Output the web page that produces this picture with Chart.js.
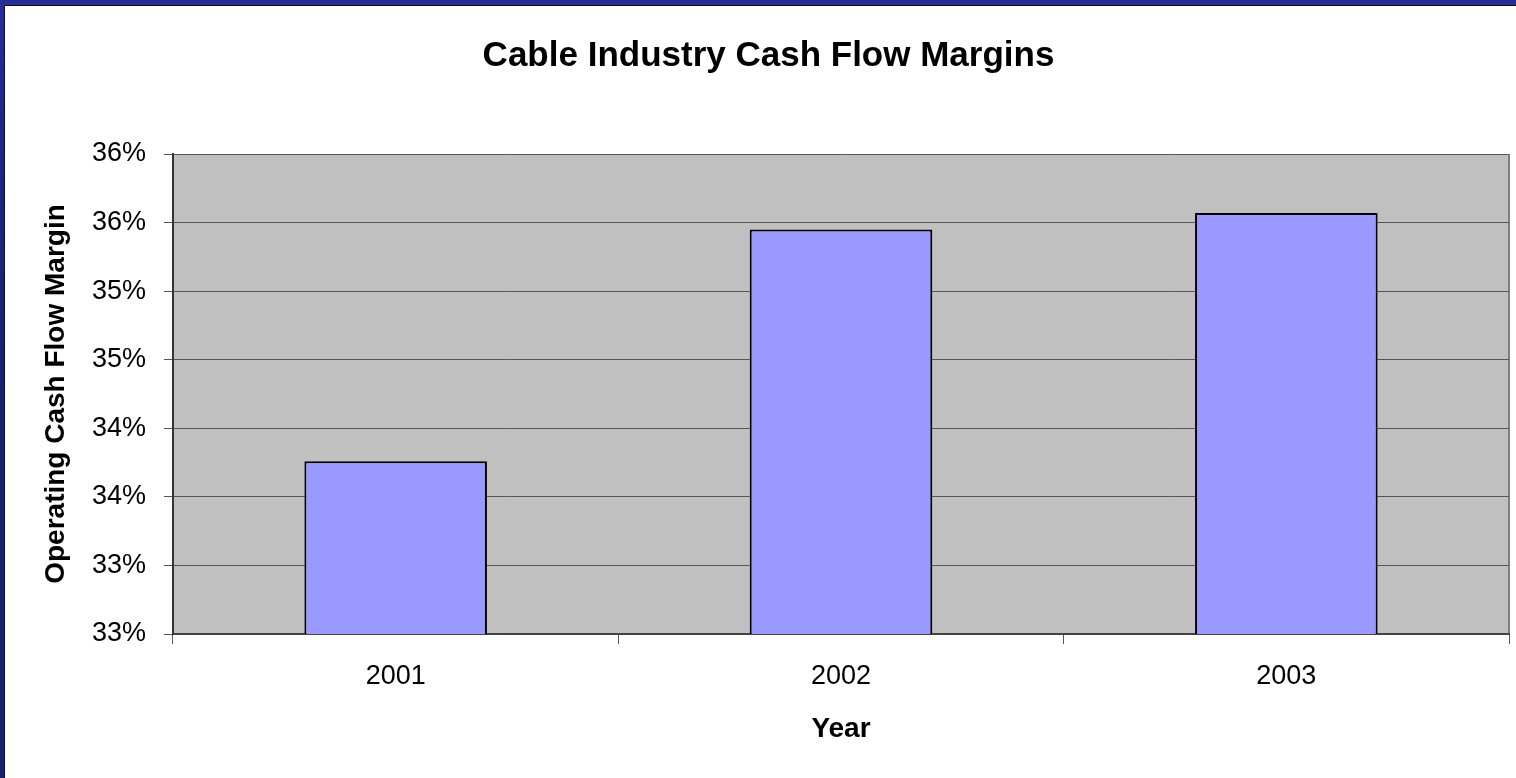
<!DOCTYPE html>
<html>
<head>
<meta charset="utf-8">
<script src="https://cdn.jsdelivr.net/npm/chart.js@4"></script>
<style>
  html, body { margin: 0; padding: 0; }
  body {
    width: 1516px; height: 778px; overflow: hidden;
    background: linear-gradient(to bottom, #2a2d94 0px, #1a2a7c 140px, #12246a 400px);
  }
  #panel {
    position: absolute; left: 4px; top: 5px; width: 1512px; height: 773px;
    background: #fff; border-left: 1px solid #0b0b35; border-top: 1px solid #0b0b35;
  }
  #wrap { position: absolute; left: 1px; top: 1px; width: 1511px; height: 772px; }
</style>
</head>
<body>
<div id="panel"><div id="wrap"><canvas id="cashFlow"></canvas></div></div>
<script>
// 데이터
var years = ['2001', '2002', '2003'];
var margins = [33.76, 35.45, 35.57];   // % 값
var yMin = 32.5, yMax = 36, yStep = 0.5;

var fontFamily = '"Liberation Sans", Arial, sans-serif';

// 플롯 영역 배경 + 오른쪽 테두리
var plotArea = {
  id: 'plotArea',
  beforeDraw: function(chart) {
    var a = chart.chartArea, ctx = chart.ctx;
    ctx.save();
    ctx.fillStyle = '#c0c0c0';
    ctx.fillRect(a.left, a.top, a.right - a.left, a.bottom - a.top);
    ctx.strokeStyle = '#808080';
    ctx.lineWidth = 2;
    ctx.beginPath();
    ctx.moveTo(a.right, a.top);
    ctx.lineTo(a.right, a.bottom);
    ctx.stroke();
    ctx.restore();
  }
};

var cashChart = new Chart(document.getElementById('cashFlow').getContext('2d'), {
  type: 'bar',
  data: {
    labels: years,
    datasets: [{
      data: margins,
      backgroundColor: '#9999ff',
      borderColor: '#000000',
      borderWidth: 2,
      borderSkipped: false,
      categoryPercentage: 0.41,
      barPercentage: 1
    }]
  },
  options: {
    responsive: true,
    maintainAspectRatio: false,
    animation: false,
    layout: { padding: { left: 22, right: 8, top: 0, bottom: 0 } },
    plugins: {
      legend: { display: false },
      tooltip: { enabled: false },
      title: {
        display: true,
        text: 'Cable Industry Cash Flow Margins',
        color: '#000',
        font: { family: fontFamily, size: 35, weight: 'bold', lineHeight: 1.2 },
        padding: { top: 28, bottom: 77 }
      }
    },
    scales: {
      x: {
        grid: { drawOnChartArea: false, drawTicks: true, tickLength: 10, color: '#555', offset: true },
        border: { color: '#444', width: 2 },
        ticks: { color: '#000', padding: 16, font: { family: fontFamily, size: 27 } },
        title: {
          display: true, text: 'Year', color: '#000',
          font: { family: fontFamily, size: 28, weight: 'bold', lineHeight: 1.2 },
          padding: { top: 10, bottom: 33 }
        },
        afterFit: function(s) { s.height = 145; }
      },
      y: {
        min: yMin,
        max: yMax,
        grid: { color: '#555', lineWidth: 1, tickLength: 9 },
        border: { color: '#333', width: 2 },
        ticks: {
          stepSize: yStep,
          color: '#000',
          padding: 18,
          font: { family: fontFamily, size: 27 },
          callback: function(v) { return Math.round(v + 1e-6) + '%'; }
        },
        title: {
          display: true, text: 'Operating Cash Flow Margin', color: '#000',
          font: { family: fontFamily, size: 28, weight: 'bold', lineHeight: 1.2 },
          padding: { top: 11, bottom: 10 }
        },
        afterFit: function(s) { s.width = 145; }
      }
    }
  },
  plugins: [plotArea]
});
</script>
</body>
</html>
